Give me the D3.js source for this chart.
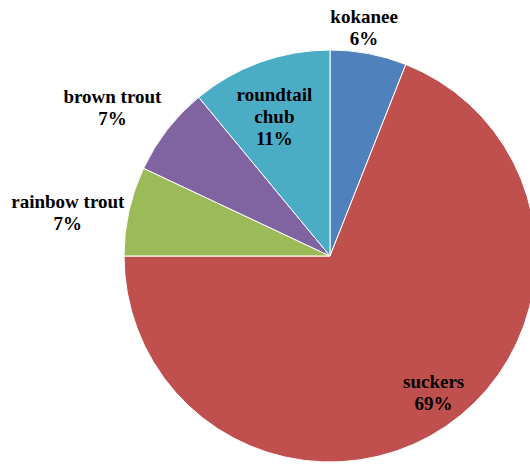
<!DOCTYPE html>
<html>
<head>
<meta charset="utf-8">
<script src="https://d3js.org/d3.v7.min.js"></script>
</head>
<body style="margin:0">
<svg width="530" height="464"></svg>
<script>
// fish species, clockwise from 12 o'clock
let species = ['kokanee', 'suckers', 'rainbow trout', 'brown trout', 'roundtail chub']
let percents = [6, 69, 7, 7, 11]
let labelLines = [['kokanee'], ['suckers'], ['rainbow trout'], ['brown trout'], ['roundtail', 'chub']]
let colors = ['#4F81BD', '#C0504D', '#9BBB59', '#8064A2', '#4BACC6']

let cx = 330
let cy = 256
let radius = 206
let lineH = 22

// label placement: share of radius, and a small turn (degrees) off the slice middle
let labelPos = [1.12, 0.83, 1.29, 1.28, 0.73]
let labelTurn = [-2.3, -3.1, -3.2, -3.4, -1.9]

let svg = d3.select('svg')

let slices = species.map((s, i) => ({ name: s, value: percents[i], color: colors[i], i: i }))

let pie = d3.pie().sort(null).value(d => d.value)
let arcs = pie(slices)

let arc = d3.arc().innerRadius(0).outerRadius(radius)

let g = svg.append('g').attr('transform', `translate(${cx},${cy})`)

g.selectAll('path')
  .data(arcs)
  .enter()
  .append('path')
  .attr('d', arc)
  .style('fill', d => d.data.color)
  .style('stroke', '#fff')
  .style('stroke-width', 1)

let labelSpot = d => {
  let r = radius * labelPos[d.data.i]
  let a = (d.startAngle + d.endAngle) / 2 + labelTurn[d.data.i] * Math.PI / 180
  return [cx + r * Math.sin(a), cy - r * Math.cos(a)]
}

arcs.forEach(d => {
  let p = labelSpot(d)
  let lines = labelLines[d.data.i].concat([d.data.value + '%'])
  let top = p[1] - (lines.length - 1) * lineH / 2 + 6.5
  let t = svg.append('text')
    .attr('x', p[0])
    .attr('y', top)
    .attr('text-anchor', 'middle')
    .style('font-family', '"Liberation Serif"')
    .style('font-weight', 'bold')
    .style('font-size', '19px')
  lines.forEach((s, k) => {
    t.append('tspan')
      .attr('x', p[0])
      .attr('y', top + k * lineH)
      .text(s)
  })
})
</script>
</body>
</html>
